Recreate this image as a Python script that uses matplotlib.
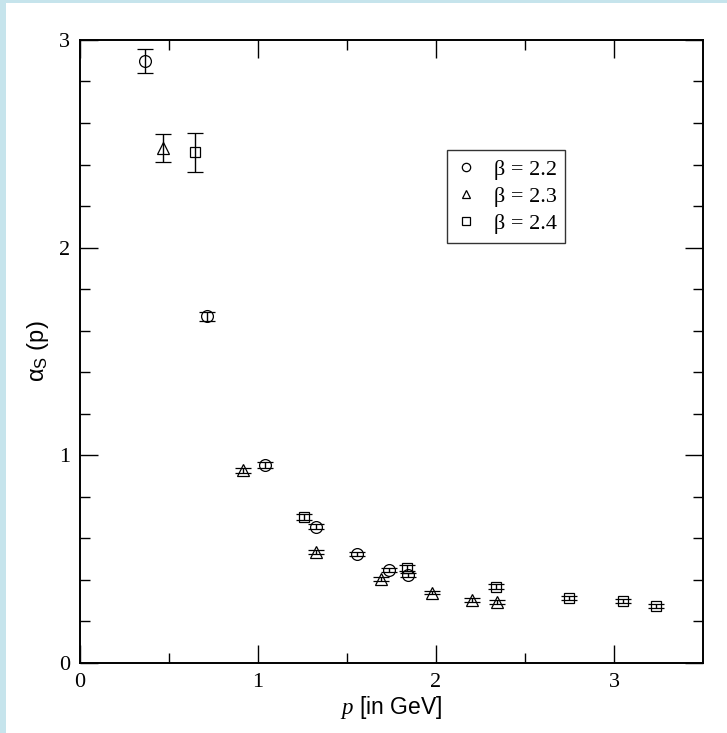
import matplotlib.pyplot as plt
from matplotlib.patches import Rectangle
from matplotlib.lines import Line2D

# beta = 2.2 (circles)
p_22 = [0.365, 0.713, 1.04, 1.326, 1.556, 1.736, 1.843]
a_22 = [2.90, 1.67, 0.953, 0.655, 0.525, 0.448, 0.424]
e_22 = [0.058, 0.022, 0.015, 0.012, 0.010, 0.010, 0.010]

# beta = 2.3 (triangles)
p_23 = [0.466, 0.916, 1.326, 1.69, 1.98, 2.205, 2.34]
a_23 = [2.48, 0.929, 0.535, 0.404, 0.338, 0.303, 0.293]
e_23 = [0.068, 0.012, 0.010, 0.010, 0.008, 0.008, 0.008]

# beta = 2.4 (squares)
p_24 = [0.646, 1.26, 1.835, 2.335, 2.747, 3.05, 3.236]
a_24 = [2.46, 0.703, 0.457, 0.366, 0.313, 0.298, 0.275]
e_24 = [0.094, 0.015, 0.015, 0.012, 0.010, 0.010, 0.010]

labels = ["β = 2.2", "β = 2.3", "β = 2.4"]
markers = ["o", "^", "s"]

serif = "Liberation Serif"
sans = "Liberation Sans"
plt.rcParams["mathtext.fontset"] = "custom"
plt.rcParams["mathtext.rm"] = sans
plt.rcParams["mathtext.it"] = serif + ":italic"

fig = plt.figure(figsize=(7.27, 7.33), dpi=100, facecolor="#c6e4ec")
fig.patches.append(Rectangle((6 / 727, 0), 1, 1 - 3 / 733, transform=fig.transFigure,
                             facecolor="white", edgecolor="none", zorder=-10))
ax = fig.add_axes([0.110, 0.0955, 0.857, 0.85])
ax.set_facecolor("white")

data = [(p_22, a_22, e_22), (p_23, a_23, e_23), (p_24, a_24, e_24)]
handles = []
for (p, a, e), m, lab in zip(data, markers, labels):
    ax.errorbar(p, a, yerr=e, fmt=m, mfc="none", mec="black", ms=8.5 if m != "s" else 7.5,
                mew=0.9, ecolor="black", elinewidth=1.0, capsize=5.5, capthick=1.0,
                color="black")
    handles.append(Line2D([], [], ls="none", marker=m, mfc="none", mec="black",
                          ms=6 if m == "o" else 5.5, mew=0.9, label=lab))

ax.set_xlim(0, 3.5)
ax.set_ylim(0, 3)
ax.set_xticks([0, 1, 2, 3])
ax.set_yticks([0, 1, 2, 3])
ax.set_xticks([0.5, 1.5, 2.5], minor=True)
ax.set_yticks([0.2, 0.4, 0.6, 0.8, 1.2, 1.4, 1.6, 1.8, 2.2, 2.4, 2.6, 2.8], minor=True)
ax.tick_params(which="both", direction="in", top=True, right=True, width=1.0)
ax.tick_params(which="major", length=13, labelsize=16, pad=7)
ax.tick_params(which="minor", length=7)
for lbl in ax.get_xticklabels() + ax.get_yticklabels():
    lbl.set_fontfamily(serif)
for s in ax.spines.values():
    s.set_linewidth(1.4)

ax.set_xlabel(r"$\it{p}$ [in GeV]", fontsize=16.5, family=sans, labelpad=2)
ax.set_ylabel(r"α$_\mathrm{S}$ (p)", fontsize=17, family=sans, labelpad=6)

leg = ax.legend(handles=handles, loc="upper left", bbox_to_anchor=(0.589, 0.823),
                frameon=True, fancybox=False, edgecolor="black",
                prop={"family": serif, "size": 16}, handlelength=0.9,
                handletextpad=0.8, borderpad=0.4, labelspacing=0.3, borderaxespad=0)
leg.get_frame().set_linewidth(1.0)

fig.savefig("out.png", dpi=100, facecolor=fig.get_facecolor())
